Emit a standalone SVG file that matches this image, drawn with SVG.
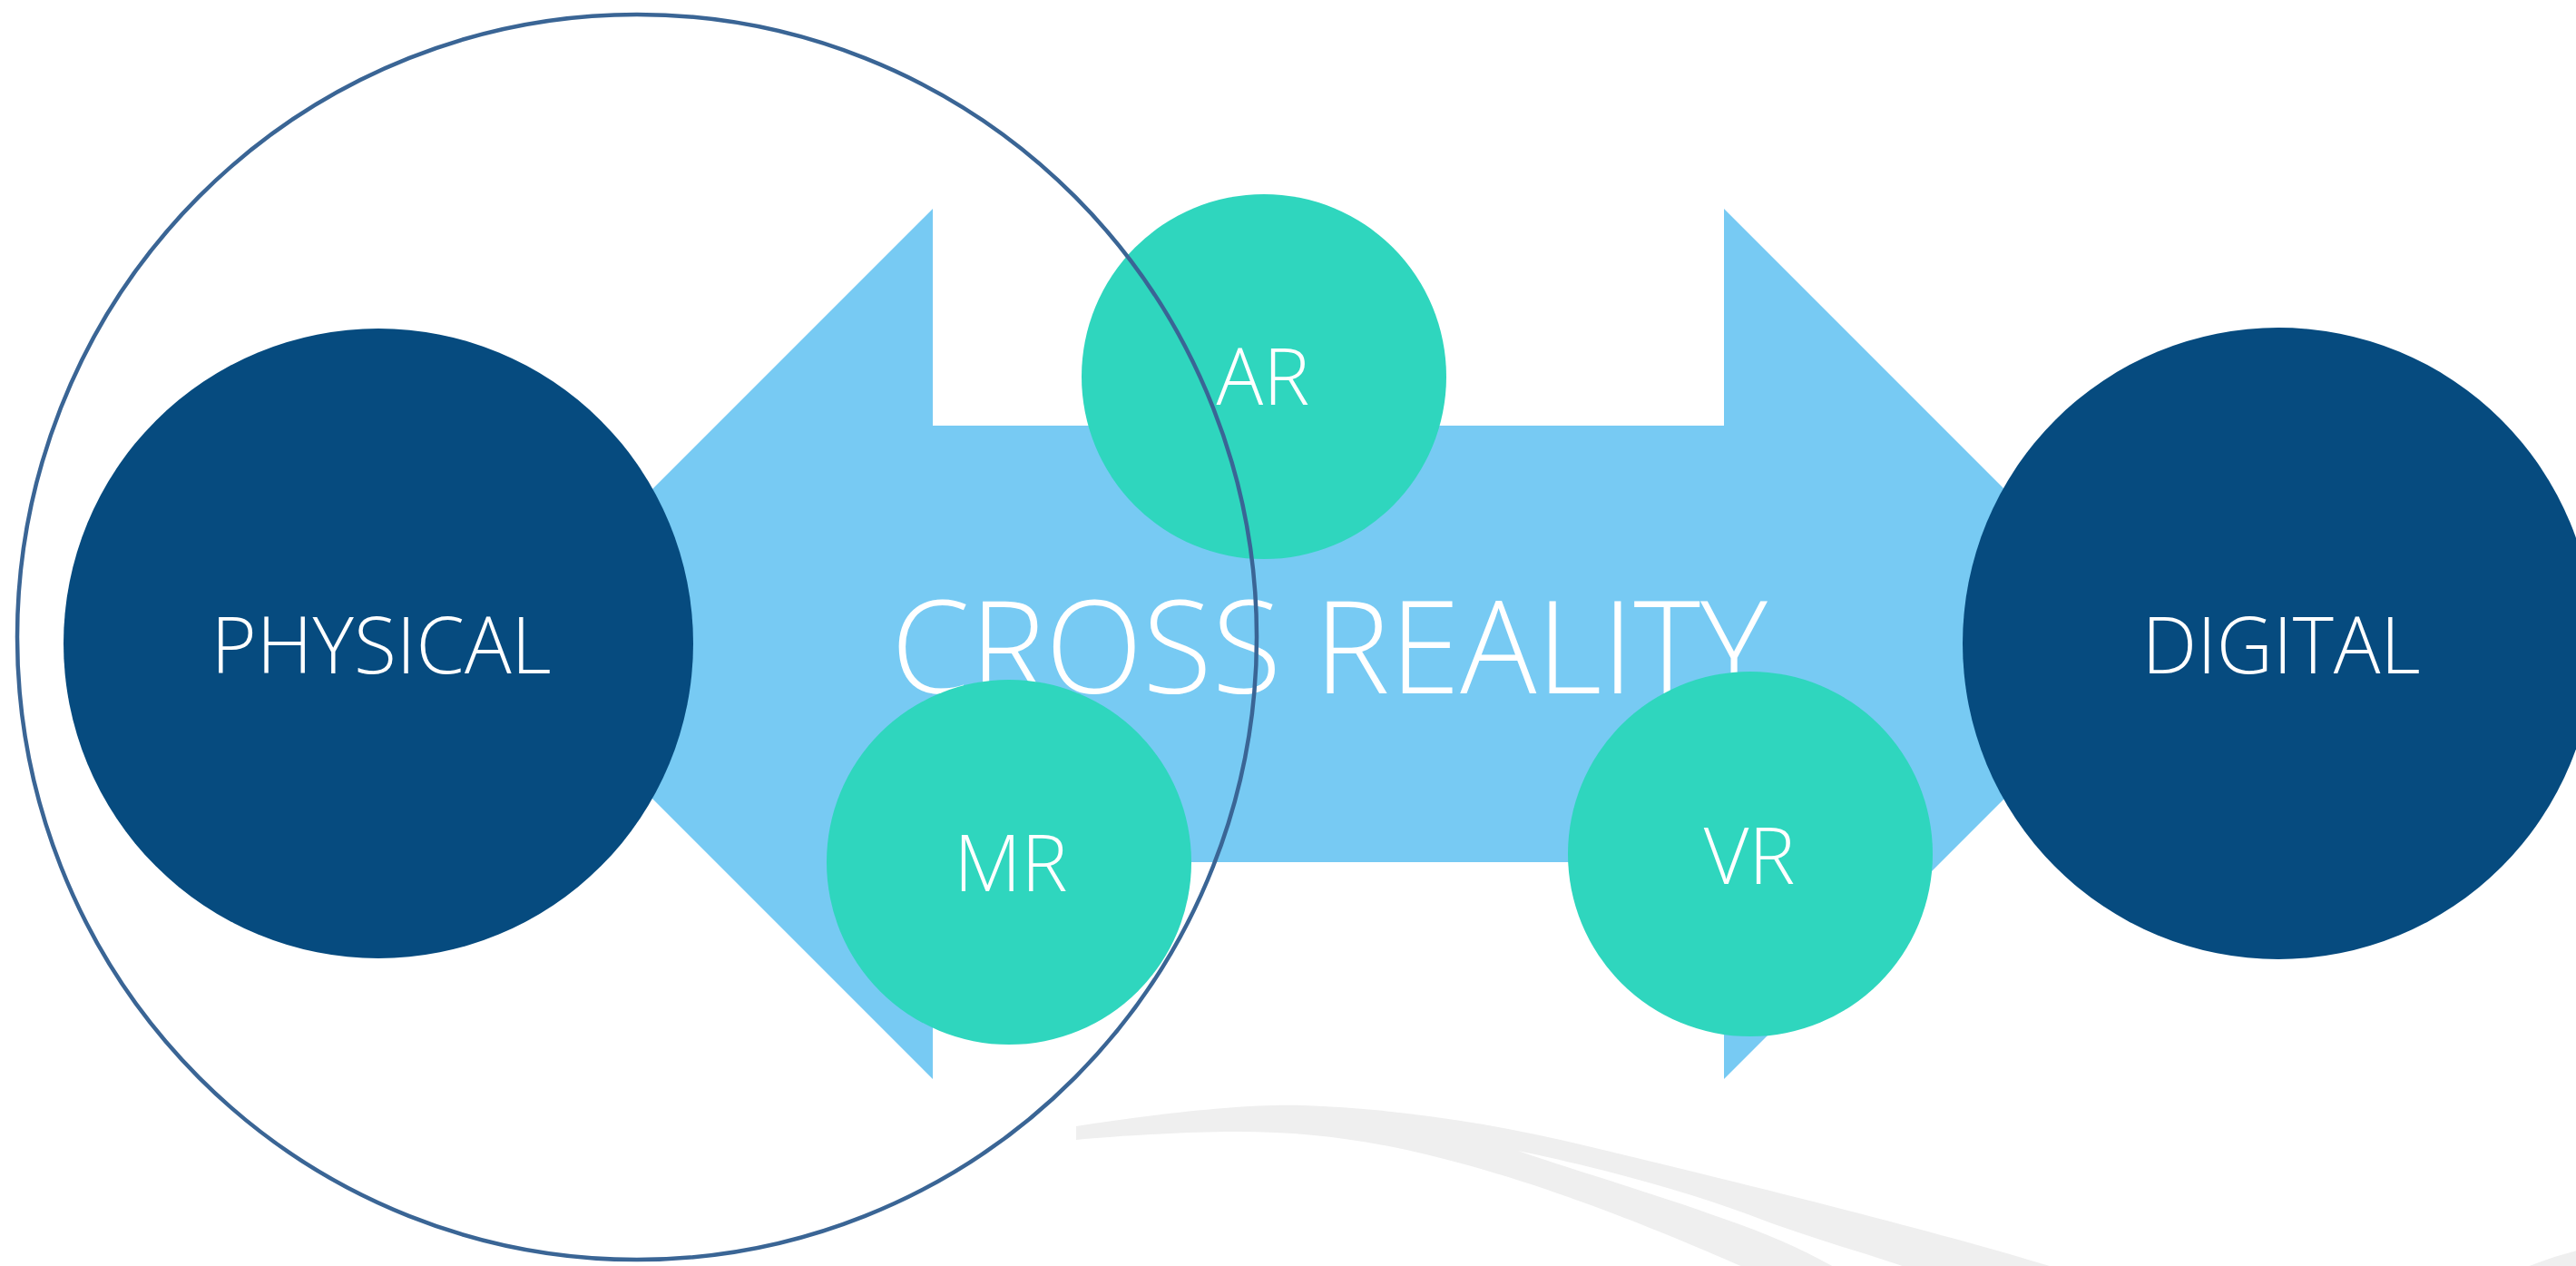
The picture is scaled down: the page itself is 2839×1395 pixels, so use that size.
<svg xmlns="http://www.w3.org/2000/svg" width="2839" height="1395" viewBox="0 0 2839 1395">
  <style>
    .dark { fill: #064B7F; }
    .teal { fill: #2FD6BE; }
    .arrow { fill: #77CAF3; }
    .swoosh { fill: #EFEFEF; }
    .lbl { font-family: "Open Sans", "Liberation Sans", sans-serif; font-weight: 300; font-size: 86px; fill: #FFFFFF; text-anchor: middle; }
    .title { font-family: "Open Sans", "Liberation Sans", sans-serif; font-weight: 350; font-size: 143px; fill: #FFFFFF; }
    .outline { fill: none; stroke: #3A6595; stroke-width: 4.5; }
  </style>
  <rect x="0" y="0" width="2839" height="1395" fill="#FFFFFF"/>

  <g id="background-swooshes">
    <path class="swoosh" fill-rule="evenodd" d="M1186,1241 C1270,1228 1370,1216 1436,1218 C1530,1221 1640,1236 1750,1263 C1880,1294 2150,1360 2275,1400 L1930,1400 C1850,1365 1700,1300 1550,1267 C1480,1252 1420,1246 1350,1247 C1290,1248 1230,1252 1186,1256 Z M1673,1268 C1740,1282 1850,1308 1950,1347 C2020,1372 2080,1388 2110,1400 L2028,1400 C1990,1378 1950,1360 1900,1343 C1820,1314 1730,1288 1673,1268 Z"/>
    <path class="swoosh" d="M2775,1400 Q2808,1386 2840,1378 L2840,1400 Z"/>
  </g>

  <g id="connectors">
    <polygon id="cross-reality-arrow" class="arrow" points="548.5,709.5 1028,230 1028,469 1900,469 1900,230 2379.5,709.5 1900,1189 1900,950 1028,950 1028,1189"/>
  </g>

  <g id="cross-reality">
    <text class="title" x="982" y="764" textLength="966" lengthAdjust="spacingAndGlyphs">CROSS REALITY</text>
  </g>

  <g id="physical">
    <circle class="dark" cx="417" cy="709" r="347"/>
    <text class="lbl" x="420" y="742">PHYSICAL</text>
  </g>

  <g id="digital">
    <circle class="dark" cx="2511" cy="709" r="348"/>
    <text class="lbl" x="2514" y="742">DIGITAL</text>
  </g>

  <g id="ar">
    <circle class="teal" cx="1393" cy="415" r="201"/>
    <text class="lbl" x="1392" y="446">AR</text>
  </g>

  <g id="mr">
    <circle class="teal" cx="1112" cy="950" r="201"/>
    <text class="lbl" x="1114" y="982">MR</text>
  </g>

  <g id="vr">
    <circle class="teal" cx="1929" cy="941" r="201"/>
    <text class="lbl" x="1928" y="974">VR</text>
  </g>

  <g id="physical-boundary">
    <ellipse class="outline" cx="702" cy="702" rx="683" ry="686"/>
  </g>
</svg>
